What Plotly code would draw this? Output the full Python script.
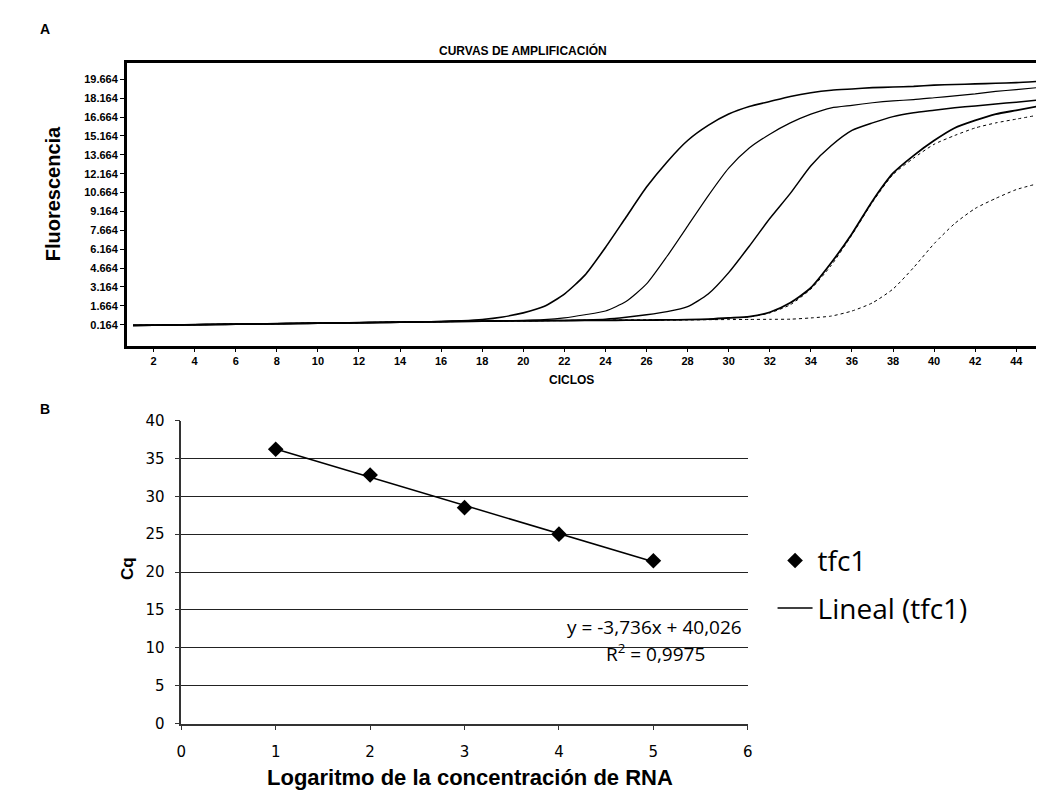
import plotly.graph_objects as go
import numpy as np

# ---------------- Panel A data: amplification curves ----------------
cycles = list(range(1, 46))

curve_1 = [0.10, 0.12, 0.14, 0.16, 0.18, 0.20, 0.22, 0.24, 0.26, 0.28, 0.30, 0.32, 0.34, 0.36, 0.38,
           0.42, 0.48, 0.58, 0.78, 1.1, 1.6, 2.6, 4.1, 6.3, 8.7, 11.1, 13.1, 14.8, 16.0, 16.9,
           17.5, 17.9, 18.3, 18.6, 18.8, 18.9, 19.0, 19.05, 19.1, 19.2, 19.25, 19.3, 19.35, 19.4, 19.5]

curve_2 = [0.12, 0.13, 0.15, 0.17, 0.19, 0.21, 0.23, 0.25, 0.27, 0.29, 0.31, 0.33, 0.35, 0.37, 0.39,
           0.41, 0.43, 0.45, 0.47, 0.50, 0.56, 0.70, 0.95, 1.25, 2.0, 3.4, 5.6, 8.0, 10.4, 12.6,
           14.2, 15.3, 16.2, 16.9, 17.4, 17.6, 17.8, 17.95, 18.05, 18.2, 18.35, 18.5, 18.7, 18.85, 19.0]

curve_3 = [0.10, 0.12, 0.14, 0.16, 0.18, 0.20, 0.22, 0.24, 0.26, 0.28, 0.30, 0.32, 0.34, 0.36, 0.38,
           0.40, 0.42, 0.44, 0.46, 0.47, 0.48, 0.50, 0.54, 0.60, 0.75, 0.95, 1.2, 1.6, 2.6, 4.3,
           6.4, 8.6, 10.6, 12.8, 14.4, 15.6, 16.2, 16.7, 17.0, 17.2, 17.4, 17.55, 17.7, 17.85, 18.0]

curve_4a = [0.10, 0.12, 0.14, 0.16, 0.18, 0.20, 0.22, 0.24, 0.26, 0.28, 0.30, 0.32, 0.34, 0.36, 0.38,
            0.40, 0.42, 0.44, 0.46, 0.47, 0.48, 0.49, 0.50, 0.51, 0.52, 0.53, 0.54, 0.56, 0.60, 0.70,
            0.80, 1.15, 1.9, 3.1, 5.1, 7.4, 10.0, 12.2, 13.6, 14.8, 15.8, 16.4, 16.9, 17.2, 17.5]

curve_4b = [0.11, 0.13, 0.15, 0.17, 0.19, 0.21, 0.23, 0.25, 0.27, 0.29, 0.31, 0.33, 0.35, 0.37, 0.39,
            0.41, 0.43, 0.45, 0.47, 0.48, 0.49, 0.50, 0.51, 0.52, 0.53, 0.54, 0.55, 0.56, 0.58, 0.68,
            0.78, 1.1, 1.75, 3.0, 4.9, 7.3, 9.9, 12.1, 13.4, 14.5, 15.2, 15.8, 16.2, 16.5, 16.8]

curve_5 = [0.10, 0.12, 0.14, 0.16, 0.18, 0.20, 0.22, 0.24, 0.26, 0.28, 0.30, 0.32, 0.34, 0.36, 0.38,
           0.40, 0.42, 0.44, 0.46, 0.47, 0.48, 0.49, 0.50, 0.51, 0.52, 0.53, 0.54, 0.55, 0.56, 0.57,
           0.58, 0.59, 0.60, 0.70, 0.85, 1.25, 1.9, 3.0, 4.7, 6.6, 8.2, 9.4, 10.2, 10.9, 11.35]

fluor_tickvals = [0.164, 1.664, 3.164, 4.664, 6.164, 7.664, 9.164, 10.664, 12.164, 13.664,
                  15.164, 16.664, 18.164, 19.664]
fluor_ticktext = ["0.164", "1.664", "3.164", "4.664", "6.164", "7.664", "9.164", "10.664",
                  "12.164", "13.664", "15.164", "16.664", "18.164", "19.664"]
cycle_ticks = [2, 4, 6, 8, 10, 12, 14, 16, 18, 20, 22, 24, 26, 28, 30, 32, 34, 36, 38, 40, 42, 44]

# ---------------- Panel B data: standard curve ----------------
log_conc = [1, 2, 3, 4, 5]
cq = [36.2, 32.8, 28.5, 25.0, 21.5]
equation_text = "y = -3,736x + 40,026"
r2_text = "R<sup>2</sup> = 0,9975"

W, H = 1041, 800
def px_x(p):
    return p / W
def px_y(p):
    return 1 - p / H

fig = go.Figure()

curves = [
    (curve_1, dict(color="black", width=1.6)),
    (curve_2, dict(color="black", width=1.2)),
    (curve_3, dict(color="black", width=1.5)),
    (curve_4a, dict(color="black", width=1.8)),
    (curve_4b, dict(color="black", width=1.0, dash="dot")),
    (curve_5, dict(color="black", width=1.0, dash="dot")),
]
for ys, ln in curves:
    fig.add_trace(go.Scatter(x=cycles, y=ys, mode="lines", line=dict(shape="spline", smoothing=0.6, **ln),
                             showlegend=False, hoverinfo="skip", xaxis="x", yaxis="y"))

# Panel B
fig.add_trace(go.Scatter(x=log_conc, y=cq, mode="markers", name="tfc1",
                         marker=dict(symbol="diamond", size=12, color="black"),
                         xaxis="x2", yaxis="y2", legendgroup="a"))
slope, intercept = np.polyfit(log_conc, cq, 1)
fit_y = [slope * v + intercept for v in log_conc]
fig.add_trace(go.Scatter(x=log_conc, y=fit_y, mode="lines", name="Lineal (tfc1)",
                         line=dict(color="black", width=1.5),
                         xaxis="x2", yaxis="y2", legendgroup="b"))

arial = "Liberation Sans"
# cycle axis: 2 at x=150px, 20.74 px per cycle
x_left = 2 - (150 - 123) / 20.74
x_right = 2 + (1041 - 150) / 20.74
fig.update_layout(
    width=W, height=H, margin=dict(l=0, r=0, t=0, b=0),
    paper_bgcolor="white", plot_bgcolor="white",
    xaxis=dict(domain=[px_x(123), 1.0], range=[x_left, x_right], anchor="y",
               tickvals=cycle_ticks, ticks="outside", ticklen=3, tickcolor="black",
               tickfont=dict(family=arial, size=11, color="black", weight="bold"),
               showgrid=False, zeroline=False, showline=True, linecolor="black", linewidth=2.5,
               mirror=True),
    yaxis=dict(domain=[px_y(345), px_y(55)], range=[-1.55, 20.98], anchor="x",
               tickvals=fluor_tickvals, ticktext=fluor_ticktext, ticks="outside", ticklen=4,
               tickcolor="black",
               tickfont=dict(family=arial, size=11, color="black", weight="bold"),
               showgrid=False, zeroline=False, showline=True, linecolor="black", linewidth=2.5,
               mirror=False),
    xaxis2=dict(domain=[px_x(178), px_x(750)], range=[0, 6], anchor="y2",
                tickvals=[0, 1, 2, 3, 4, 5, 6], ticks="outside", ticklen=5, tickcolor="#333",
                ticklabelstandoff=9,
                tickfont=dict(family="DejaVu Sans", size=15, color="black"),
                showgrid=False, zeroline=False, showline=True, linecolor="#333", linewidth=1.5),
    yaxis2=dict(domain=[px_y(731), px_y(421)], range=[0, 40], anchor="x2",
                tickvals=[0, 5, 10, 15, 20, 25, 30, 35, 40], ticks="outside", ticklen=5,
                tickcolor="#333", ticklabelstandoff=7,
                tickfont=dict(family="DejaVu Sans", size=15, color="black"),
                showgrid=True, gridcolor="#222", gridwidth=1.2,
                zeroline=False, showline=True, linecolor="#333", linewidth=1.5),
    legend=dict(x=px_x(775), y=px_y(539), xanchor="left", yanchor="top",
                font=dict(family="Open Sans", size=28, color="black"),
                traceorder="grouped", tracegroupgap=8, itemwidth=35,
                bgcolor="rgba(0,0,0,0)"),
    showlegend=True,
)

annotations = [
    dict(text="<b>A</b>", x=px_x(40), y=px_y(20), font=dict(family=arial, size=14)),
    dict(text="<b>CURVAS DE AMPLIFICACIÓN</b>", x=px_x(523), y=px_y(42),
         font=dict(family=arial, size=12)),
    dict(text="<b>Fluorescencia</b>", x=px_x(48), y=px_y(189), textangle=-90,
         font=dict(family=arial, size=20)),
    dict(text="<b>CICLOS</b>", x=px_x(572), y=px_y(380), font=dict(family=arial, size=12)),
    dict(text="<b>B</b>", x=px_x(40), y=px_y(409), font=dict(family=arial, size=14)),
    dict(text="<b>Cq</b>", x=px_x(123), y=px_y(572), textangle=-90,
         font=dict(family=arial, size=17)),
    dict(text="<b>Logaritmo de la concentración de RNA</b>", x=px_x(470), y=px_y(786),
         font=dict(family=arial, size=22)),
    dict(text=equation_text, x=px_x(746), y=px_y(632), xanchor="right",
         font=dict(family="Open Sans", size=19)),
    dict(text=r2_text, x=px_x(657), y=px_y(659), font=dict(family="Open Sans", size=19)),
]
for a in annotations:
    a.setdefault("xanchor", "center")
    fig.add_annotation(xref="paper", yref="paper", showarrow=False, yanchor="middle",
                       font_color="black", **{k: v for k, v in a.items()})

fig.write_html("out.html", config={"displayModeBar": False},
               post_script="document.body.style.margin='0px';document.body.style.overflow='hidden';")
